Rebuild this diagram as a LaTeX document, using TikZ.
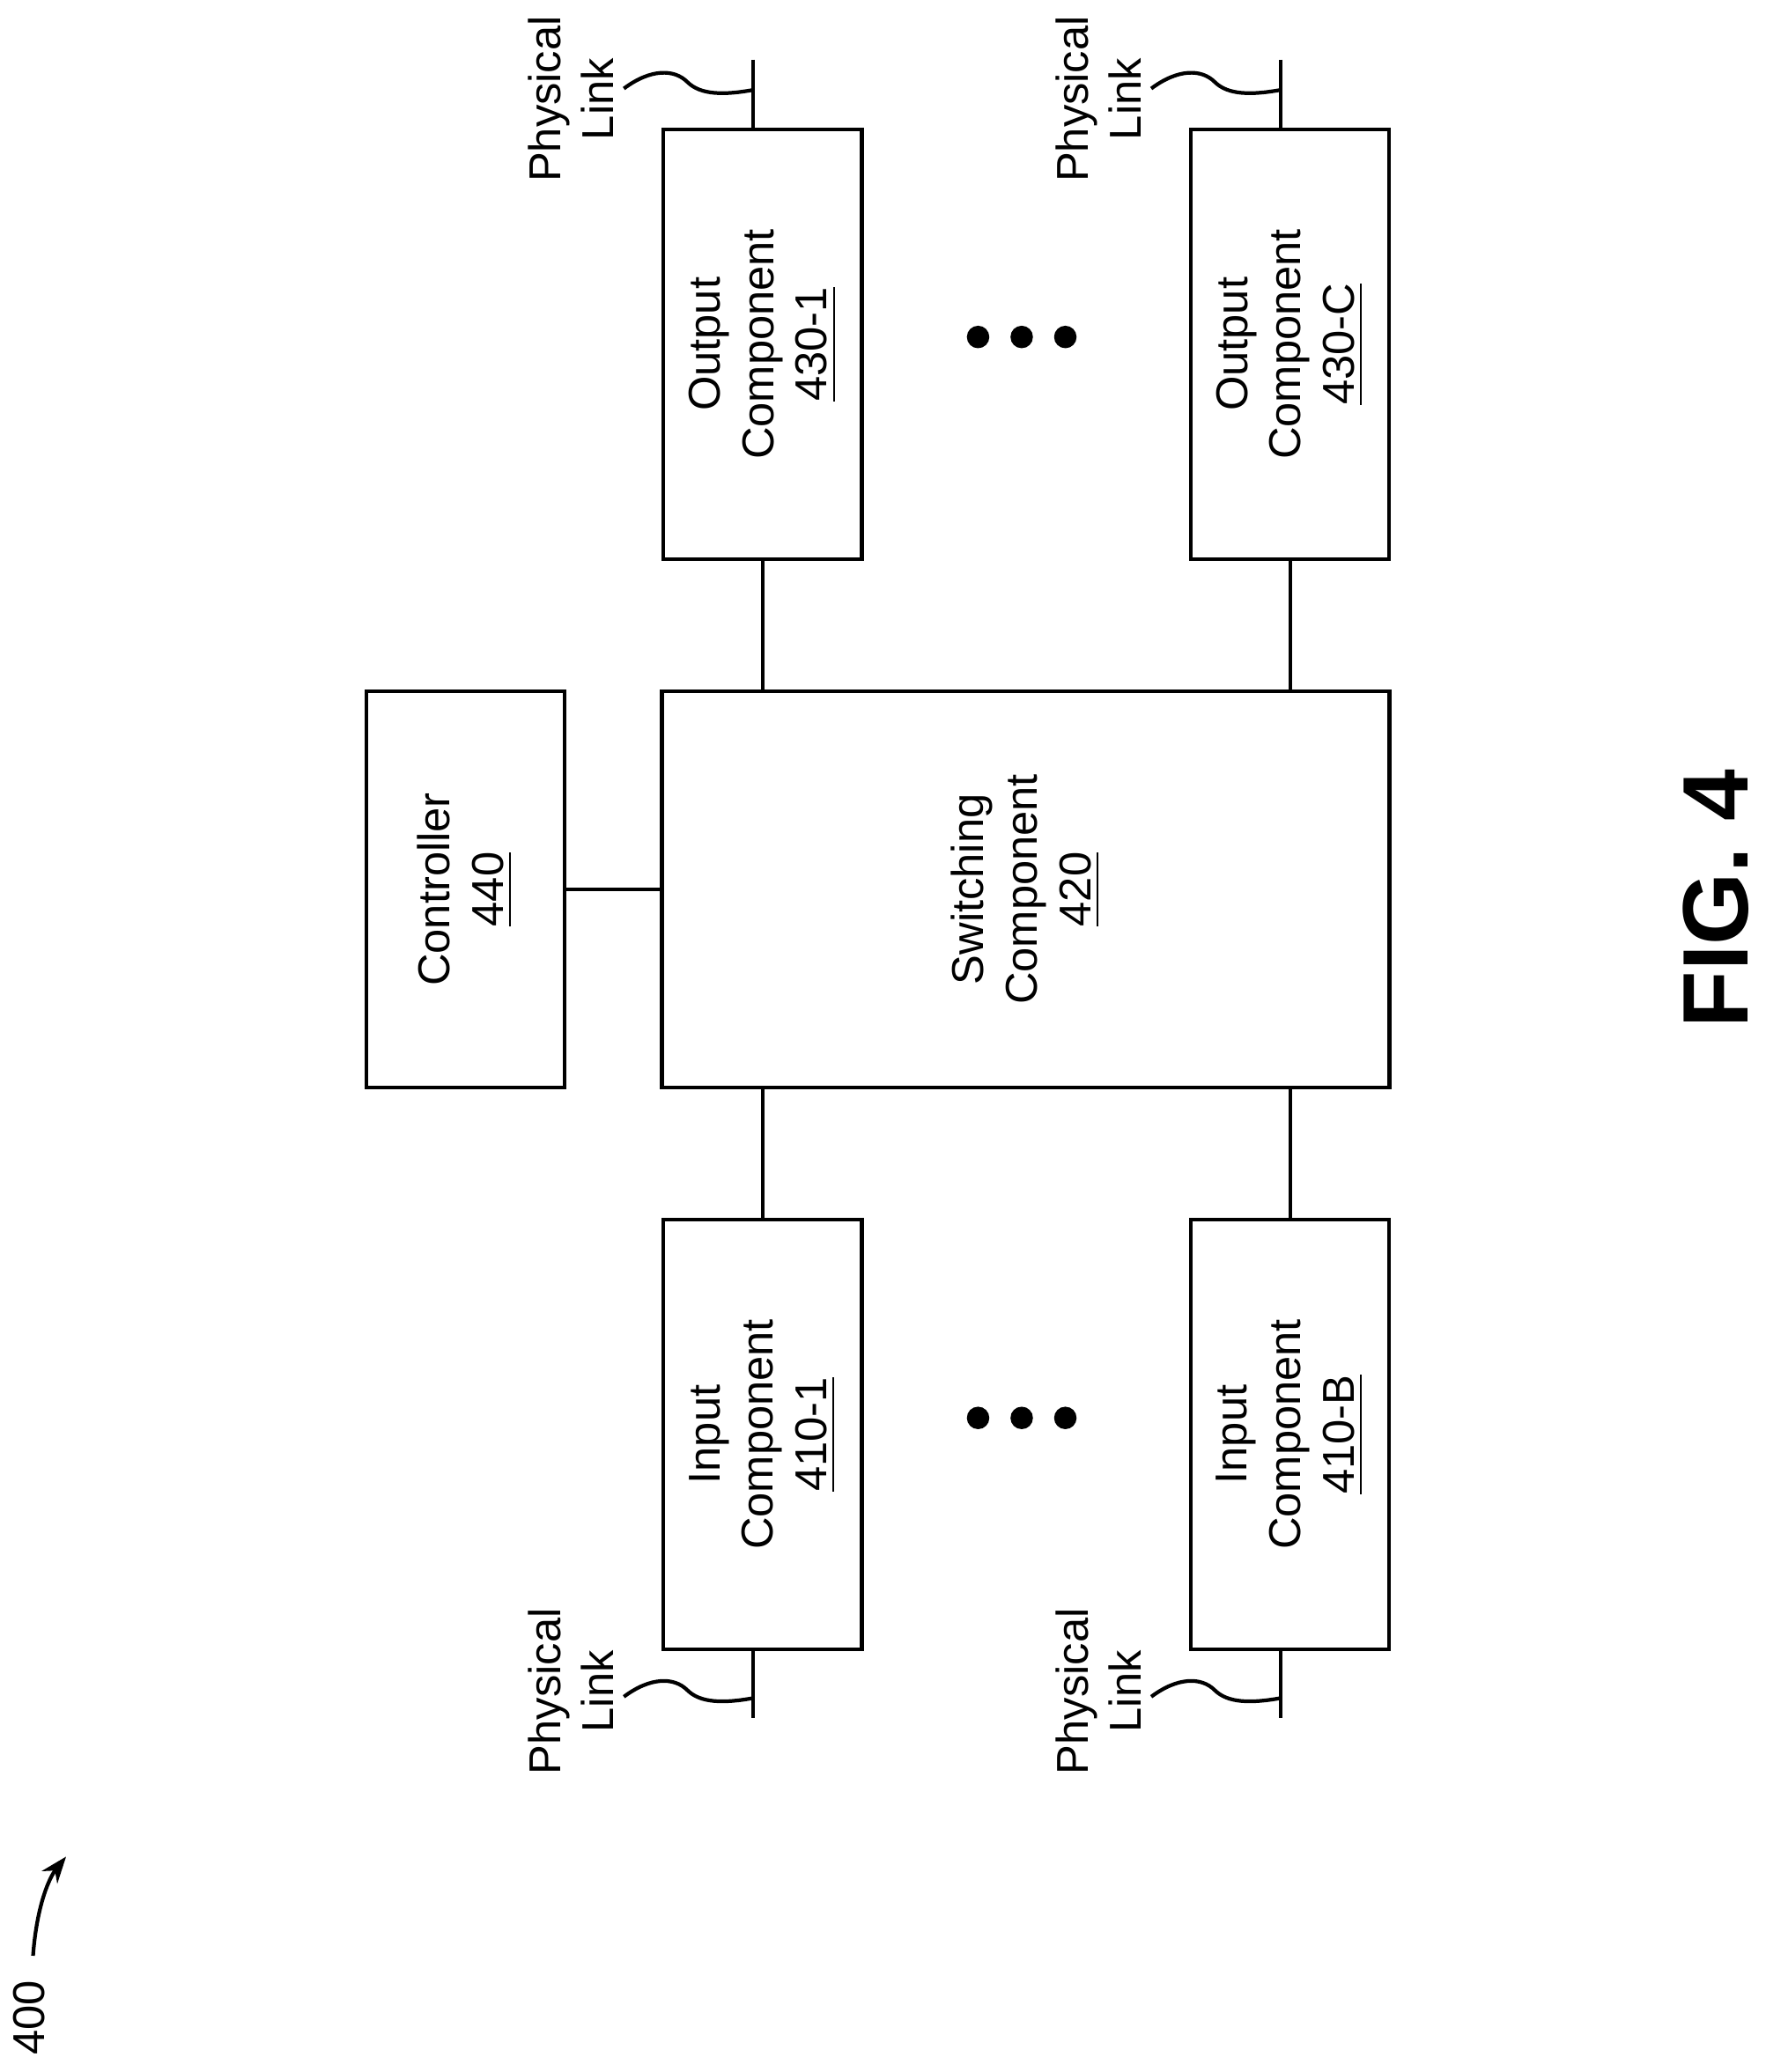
\documentclass[tikz,border=0pt]{standalone}
\usepackage{fontspec}
\setmainfont{Liberation Sans}
\usetikzlibrary{positioning, arrows.meta}
\begin{document}
\begin{tikzpicture}[
    x=0.01cm, y=-0.01cm,
    every node/.style={align=center, font=\fontsize{9.6}{11.5}\selectfont},
    box/.style={rectangle, draw, line width=0.8pt, inner sep=0pt},
    link/.style={line width=0.8pt},
    dot/.style={circle, fill=black, inner sep=0pt, minimum size=0.17cm},
    lbl/.style={rotate=90, inner sep=0pt}
]
\useasboundingbox (0,0) rectangle (1336,1568);

% --- Cajas
\node[box, minimum width=1.5cm, minimum height=3.25cm] (out1) at (577,260.5) {};
\node[box, minimum width=1.5cm, minimum height=3.25cm] (outc) at (976,260.5) {};
\node[box, minimum width=1.5cm, minimum height=3cm] (ctrl) at (352,673) {};
\node[box, minimum width=5.5cm, minimum height=3cm] (sw) at (776,673) {};
\node[box, minimum width=1.5cm, minimum height=3.25cm] (in1) at (577,1085.5) {};
\node[box, minimum width=1.5cm, minimum height=3.25cm] (inb) at (976,1085.5) {};

% --- Textos
\node[lbl] at (out1) {Output\\Component\\\underline{430-1}};
\node[lbl] at (outc) {Output\\Component\\\underline{430-C}};
\node[lbl] at (ctrl) {Controller\\\underline{440}};
\node[lbl] at (sw) {Switching\\Component\\\underline{420}};
\node[lbl] at (in1) {Input\\Component\\\underline{410-1}};
\node[lbl] at (inb) {Input\\Component\\\underline{410-B}};

% --- Conexiones
\draw[link] (577,423) -- (577,523);
\draw[link] (976,423) -- (976,523);
\draw[link] (577,823) -- (577,923);
\draw[link] (976,823) -- (976,923);
\draw[link] (ctrl.east) -- (sw.west);

% --- Enlaces fisicos
\foreach \x/\n in {570/a, 969/b} {
  \coordinate (top\n) at (\x,45);
  \coordinate (mid\n) at (\x,68);
  \draw[link] (top\n) -- (\x,98);
  \node[lbl] (plt\n) at (\x-138,75) {Physical\\Link};
  \draw[link] (\x-98,67) .. controls (\x-78,52) and (\x-60,52) .. (\x-50,62)
     .. controls (\x-40,72) and (\x-22,72) .. (mid\n);
  \coordinate (bot\n) at (\x,1300);
  \coordinate (mdb\n) at (\x,1285);
  \draw[link] (\x,1248) -- (bot\n);
  \node[lbl] (plb\n) at (\x-138,1280) {Physical\\Link};
  \draw[link] (\x-98,1284) .. controls (\x-78,1269) and (\x-60,1269) .. (\x-50,1279)
     .. controls (\x-40,1289) and (\x-22,1289) .. (mdb\n);
}

% --- Puntos
\foreach \x in {740,773,806} {
  \node[dot] at (\x,255) {};
  \node[dot] at (\x,1073) {};
}

% --- Figura
\node[lbl, font=\fontsize{20}{24}\selectfont\bfseries] (fig) at (1298,680) {FIG. 4};
\node[lbl] (ref) at (22,1527) {400};
\draw[link, -{Stealth[length=0.2cm]}] (25,1480) .. controls (28,1440) and (38,1420) .. (50,1405);
\end{tikzpicture}
\end{document}
